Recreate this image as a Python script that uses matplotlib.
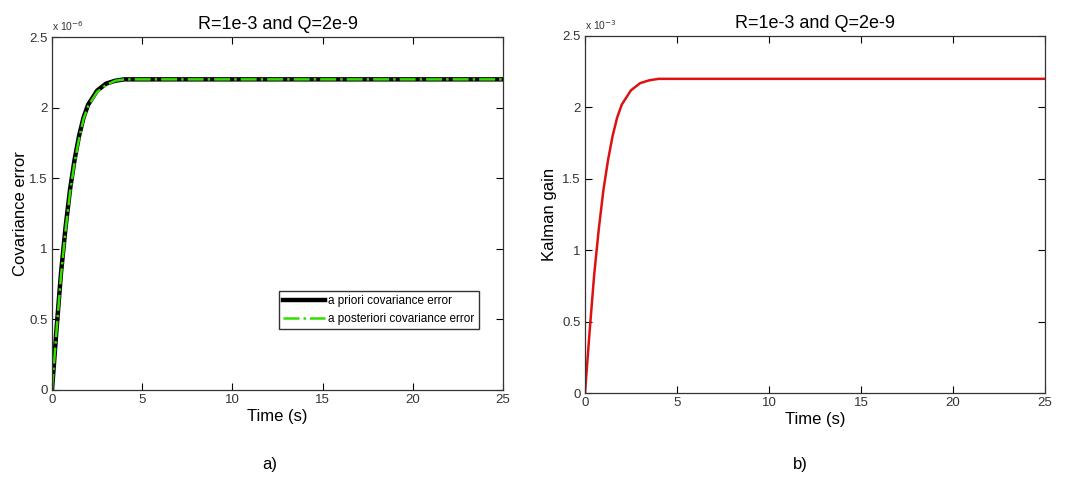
import matplotlib
matplotlib.use("Agg")
from matplotlib import pyplot as plt
from matplotlib.ticker import FuncFormatter
import numpy as np

plt.rcParams['font.family'] = ['Liberation Sans', 'DejaVu Sans']

# values (y in units of the axis multiplier)
time_s = [0, 0.25, 0.5, 0.75, 1.0, 1.25, 1.5, 1.75, 2.0, 2.5, 3.0, 3.5, 4.0, 5.0, 25.0]
cov_prior = [0, 0.43, 0.83, 1.15, 1.42, 1.63, 1.80, 1.93, 2.02, 2.12, 2.17, 2.19, 2.20, 2.20, 2.20]
cov_post = [0, 0.42, 0.81, 1.13, 1.40, 1.61, 1.78, 1.92, 2.01, 2.11, 2.16, 2.19, 2.20, 2.20, 2.20]
kalman_gain = [0, 0.43, 0.83, 1.15, 1.42, 1.63, 1.80, 1.93, 2.02, 2.12, 2.17, 2.19, 2.20, 2.20, 2.20]
y_ticks = [0, 0.5, 1, 1.5, 2, 2.5]
x_ticks = [0, 5, 10, 15, 20, 25]

title = "R=1e-3 and Q=2e-9"

fig = plt.figure(figsize=(10.75, 4.82), dpi=100)
ax1 = fig.add_axes([52/1075, 1-390/482, 451/1075, 353/482])
ax2 = fig.add_axes([585/1075, 1-393/482, 460/1075, 357/482])


def style(ax, ylabel, exp, lpad):
    ax.set_xlim(0, 25)
    ax.set_ylim(0, 2.5)
    ax.set_xticks(x_ticks)
    ax.set_yticks(y_ticks)
    ax.yaxis.set_major_formatter(FuncFormatter(lambda v, p: '%g' % v))
    ax.tick_params(direction='in', top=True, right=True, labelsize=9.5,
                   labelcolor='#333333', length=5, width=0.8, pad=3)
    for s in ax.spines.values():
        s.set_linewidth(0.9)
        s.set_color('#333333')
    ax.set_title(title, fontsize=13, pad=6)
    ax.set_xlabel("Time (s)", fontsize=12, labelpad=2)
    ax.set_ylabel(ylabel, fontsize=12, labelpad=lpad)
    ax.text(0.0, 1.012, r"x 10$^{%d}$" % exp, transform=ax.transAxes,
            fontsize=7.5, color='#333333', ha='left', va='bottom')


ax1.plot(time_s, cov_prior, color='black', lw=3.2,
         label='a priori covariance error')
ax1.plot(time_s, cov_post, color='#33dd00', lw=1.8,
         ls='-.', label='a posteriori covariance error')
style(ax1, "Covariance error", -6, 1)
ax1.legend(loc='lower right', bbox_to_anchor=(0.96, 0.155), fontsize=8.5,
           fancybox=False, edgecolor='#333333', framealpha=1,
           handlelength=3.5, borderpad=0.4, labelspacing=0.45,
           handletextpad=0.3)

ax2.plot(time_s, kalman_gain, color='#dd1111', lw=1.8)
style(ax2, "Kalman gain", -3, 4)

fig.text(270/1075, 1-465/482, "a)", fontsize=12, ha='center', va='center')
fig.text(800/1075, 1-465/482, "b)", fontsize=12, ha='center', va='center')

plt.savefig("out.png", dpi=100)
